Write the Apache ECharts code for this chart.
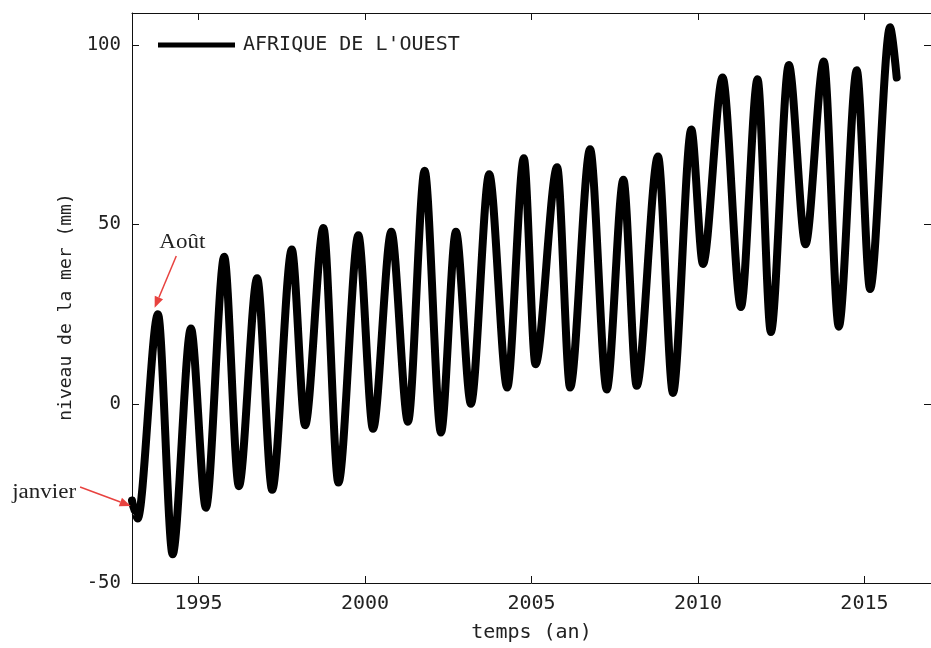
<!DOCTYPE html>
<html>
<head>
<meta charset="utf-8">
<script src="https://cdn.jsdelivr.net/npm/echarts@6/dist/echarts.min.js"></script>
<style>
  html, body { margin: 0; padding: 0; background: #fff; }
  #chart { width: 931px; height: 648px; }
</style>
</head>
<body>
<div id="chart"></div>
<script>
// temps (année décimale) et niveau de la mer (mm)
const years = [
  1993.00, 1993.08, 1993.17, 1993.78, 1994.22, 1994.77, 1995.22, 1995.77,
  1996.21, 1996.76, 1997.21, 1997.80, 1998.20, 1998.75, 1999.20, 1999.80,
  2000.24, 2000.79, 2001.29, 2001.79, 2002.28, 2002.73, 2003.18, 2003.73,
  2004.27, 2004.77, 2005.12, 2005.77, 2006.16, 2006.76, 2007.26, 2007.76,
  2008.16, 2008.80, 2009.25, 2009.80, 2010.15, 2010.74, 2011.29, 2011.79,
  2012.19, 2012.73, 2013.23, 2013.78, 2014.23, 2014.77, 2015.17, 2015.77,
  2015.97
];
const levels = [
  -27, -30, -32, 25, -42, 21, -29, 41,
  -23, 35, -24, 43, -6, 49, -22, 47,
  -7, 48, -5, 65, -8, 48, 0, 64,
  4.5, 68.5, 11, 66, 4.5, 71, 4, 62.5,
  5, 69, 3, 76.5, 39, 91, 27, 90.5,
  20, 94.5, 44.5, 95.5, 21.5, 93, 32, 105,
  91
];

const xTicks = [1995, 2000, 2005, 2010, 2015];
const yTicks = [-50, 0, 50, 100];
const seriesName = "AFRIQUE DE L'OUEST";

// annotations (coordonnées dans l'espace des données)
const annotations = [
  { text: 'Août', textAt: [1994.51, 44.8], from: [1994.33, 41.2], to: [1993.68, 26.8] },
  { text: 'janvier', textAt: [1990.36, -24.9], from: [1991.44, -23.2], to: [1992.96, -28.5] }
];

const mono = 'DejaVu Sans Mono';
const textColor = '#222';

const chart = echarts.init(document.getElementById('chart'));

const axisCommon = {
  axisLine: { show: true, onZero: false, lineStyle: { color: '#111', width: 1 } },
  axisTick: { show: true, inside: true, length: 7, lineStyle: { color: '#111' } },
  splitLine: { show: false }
};

const option = {
  animation: false,
  backgroundColor: '#fff',
  grid: { left: 132, right: -5, top: 13, bottom: 60 },
  legend: {
    data: [seriesName],
    left: 153,
    top: 30,
    icon: 'rect',
    itemWidth: 77,
    itemHeight: 5,
    textStyle: { fontFamily: mono, fontSize: 20, color: textColor, padding: [0, 0, 0, 3] }
  },
  xAxis: [
    Object.assign({}, axisCommon, {
      type: 'value',
      min: 1993,
      max: 2017,
      position: 'bottom',
      name: 'temps (an)',
      nameLocation: 'middle',
      nameGap: 40,
      nameTextStyle: { fontFamily: mono, fontSize: 20, color: textColor },
      axisTick: Object.assign({}, axisCommon.axisTick, { customValues: xTicks }),
      axisLabel: {
        customValues: xTicks,
        margin: 11,
        formatter: v => String(v),
        fontFamily: mono, fontSize: 20, color: textColor
      }
    }),
    Object.assign({}, axisCommon, {
      type: 'value',
      min: 1993,
      max: 2017,
      position: 'top',
      axisTick: Object.assign({}, axisCommon.axisTick, { customValues: xTicks }),
      axisLabel: { show: false }
    })
  ],
  yAxis: [
    Object.assign({}, axisCommon, {
      type: 'value',
      min: -50,
      max: 109,
      interval: 50,
      position: 'left',
      name: 'niveau de la mer (mm)',
      nameLocation: 'middle',
      nameGap: 57,
      nameTextStyle: { fontFamily: mono, fontSize: 18, color: textColor, padding: [0, 18, 0, 0] },
      axisTick: Object.assign({}, axisCommon.axisTick, { customValues: yTicks }),
      axisLabel: {
        customValues: yTicks,
        margin: 11,
        formatter: v => String(v),
        fontFamily: mono, fontSize: 19, color: textColor
      }
    }),
    Object.assign({}, axisCommon, {
      type: 'value',
      min: -50,
      max: 109,
      interval: 50,
      position: 'right',
      axisTick: Object.assign({}, axisCommon.axisTick, { customValues: yTicks }),
      axisLabel: { show: false }
    })
  ],
  series: [
    {
      name: seriesName,
      type: 'line',
      data: years.map((t, i) => [t, levels[i]]),
      showSymbol: false,
      symbol: 'none',
      smooth: 0.3,
      smoothMonotone: 'x',
      itemStyle: { color: '#000' },
      lineStyle: { color: '#000', width: 8, join: 'round', cap: 'round' }
    }
  ]
};

chart.setOption(option);

// flèches rouges + textes, placés via les échelles du graphique
function px(pt) {
  return chart.convertToPixel({ seriesIndex: 0 }, pt);
}

const graphics = [];
annotations.forEach(a => {
  const t = px(a.textAt);
  const p0 = px(a.from);
  const p1 = px(a.to);
  const dx = p1[0] - p0[0], dy = p1[1] - p0[1];
  const len = Math.sqrt(dx * dx + dy * dy);
  const ux = dx / len, uy = dy / len;
  const head = 11, half = 4.5;
  const bx = p1[0] - ux * head, by = p1[1] - uy * head;

  graphics.push({
    type: 'text',
    x: t[0], y: t[1],
    scaleX: 1.15,
    style: {
      text: a.text,
      font: '20px "Liberation Serif", "DejaVu Serif", serif',
      fill: '#222',
      align: 'center',
      verticalAlign: 'middle'
    },
    z: 100
  });
  graphics.push({
    type: 'line',
    shape: { x1: p0[0], y1: p0[1], x2: bx, y2: by },
    style: { stroke: '#e8423f', lineWidth: 1.5 },
    z: 100
  });
  graphics.push({
    type: 'polygon',
    shape: {
      points: [
        [p1[0], p1[1]],
        [bx - uy * half, by + ux * half],
        [bx + uy * half, by - ux * half]
      ]
    },
    style: { fill: '#e8423f' },
    z: 100
  });
});

chart.setOption({ graphic: graphics });

window.addEventListener('resize', () => chart.resize());
</script>
</body>
</html>
